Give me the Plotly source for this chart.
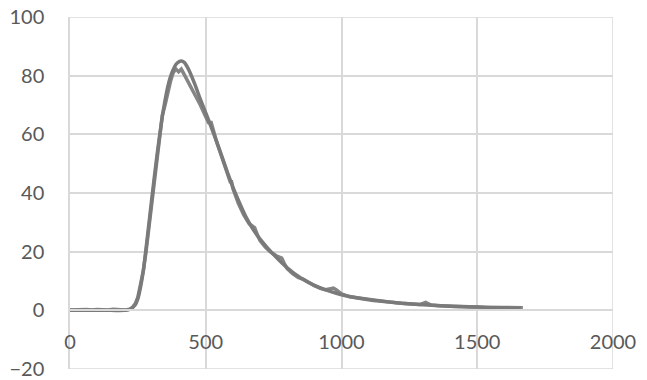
import plotly.graph_objects as go

# Fitted (smooth) curve
fit_x = [0, 50, 100, 150, 200, 220, 240, 250, 260, 270, 280, 290, 300, 310, 320, 330, 340, 350,
         360, 370, 380, 390, 400, 410, 420, 430, 440, 460, 480, 500, 520, 540, 560, 580, 600,
         625, 650, 675, 700, 750, 800, 850, 900, 950, 1000, 1100, 1200, 1300, 1400, 1500, 1600, 1660]
fit_y = [0, 0, 0, 0, 0, 0.3, 1.8, 4, 8, 13.5, 21, 29, 37, 45, 52.5, 59.5, 66, 71.5,
         76.2, 79.6, 82, 83.8, 84.7, 85, 84.6, 83.3, 81.5, 77, 72, 67.3, 62.5, 57.5, 52.3, 47, 42,
         36.5, 31.5, 27.5, 24.3, 19, 14.5, 11, 8.5, 6.7, 5.3, 3.6, 2.6, 1.9, 1.4, 1.1, 0.85, 0.75]

# Measured (noisy) curve
meas_x = [0, 20, 40, 60, 80, 100, 120, 140, 160, 180, 200,
          210, 220, 230, 240, 250, 260, 270, 280, 290, 300,
          310, 320, 330, 340, 350, 360, 370, 380, 390, 400,
          410, 420, 430, 440, 460, 480, 500, 510, 520, 530,
          540, 560, 580, 590, 595, 600, 620, 640, 660, 680,
          690, 700, 720, 740, 760, 780, 790, 800, 820, 840,
          860, 880, 900, 920, 940, 960, 970, 980, 1000, 1030,
          1060, 1100, 1140, 1180, 1220, 1260, 1290, 1310, 1330, 1360,
          1400, 1450, 1500, 1550, 1600, 1640, 1668]
meas_y = [0.1, 0.2, 0.1, 0.3, 0.1, 0.3, 0.2, 0.1, 0.4, 0.2, 0.1,
          0.2, 0.4, 1.0, 2.2, 4.5, 8.5, 13.5, 20, 27.5, 35.5,
          43, 50.5, 58, 66.5, 70, 74.5, 78, 81, 82.3, 81.3,
          82.2, 80.5, 78.8, 77.2, 73.5, 70, 66, 64, 64, 60.5,
          57.5, 52, 46, 43.8, 43.8, 41.5, 36.5, 32.5, 29.5, 28.2,
          25.8, 23.8, 21.5, 19.8, 18.6, 17.8, 15.8, 14.2, 12.5, 11.2,
          10.6, 9.4, 8.4, 7.6, 7.0, 7.4, 7.6, 7.0, 5.6, 4.6,
          4.2, 3.6, 3.1, 2.8, 2.4, 2.1, 2.0, 2.7, 1.8, 1.6,
          1.4, 1.2, 1.1, 1.0, 0.9, 0.8, 0.9]

x_ticks = [0, 500, 1000, 1500, 2000]
y_ticks = [-20, 0, 20, 40, 60, 80, 100]

fig = go.Figure()
fig.add_trace(go.Scatter(x=meas_x, y=meas_y, mode="lines",
                         line=dict(color="#858585", width=3.5), showlegend=False))
fig.add_trace(go.Scatter(x=fit_x, y=fit_y, mode="lines", line_shape="spline",
                         line=dict(color="#7a7a7a", width=3.5), showlegend=False))

font = dict(family="Lato, Open Sans, sans-serif", size=20, color="#595959")
grid = "#d9d9d9"

# edge gridlines (plotly hides the ones on the plot boundary)
xmin, xmax = x_ticks[0], x_ticks[-1]
ymin, ymax = y_ticks[0], y_ticks[-1]
edge = dict(type="line", xref="x", yref="y", layer="below", line=dict(color=grid, width=1.5))
fig.add_shape(x0=xmin, x1=xmax, y0=ymax, y1=ymax, **edge)
fig.add_shape(x0=xmin, x1=xmax, y0=ymin, y1=ymin, **edge)
fig.add_shape(x0=xmax, x1=xmax, y0=ymin, y1=ymax, **edge)

fig.update_layout(
    width=647, height=380,
    margin=dict(l=70, r=34, t=17, b=11, autoexpand=False),
    plot_bgcolor="white", paper_bgcolor="white",
    font=font,
    xaxis=dict(range=[xmin, xmax], tickvals=x_ticks, showgrid=True, gridcolor=grid, gridwidth=1.5,
               zeroline=False, showline=True, linecolor=grid, linewidth=1.5,
               anchor="free", position=20 / 120, ticks="", ticklabelstandoff=14,
               tickfont=font, automargin=False),
    yaxis=dict(range=[ymin, ymax], tickvals=y_ticks, showgrid=True, gridcolor=grid, gridwidth=1.5,
               zeroline=False, showline=True, linecolor=grid, linewidth=1.5,
               ticks="", ticklabelstandoff=20, tickfont=font, automargin=False),
)

fig.write_html("out.html")
